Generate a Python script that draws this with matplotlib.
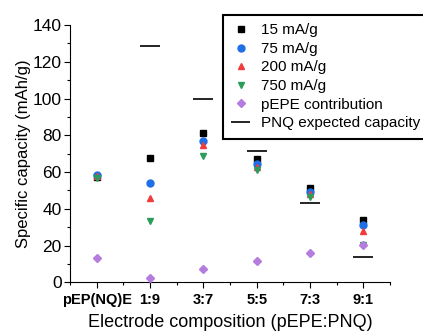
import matplotlib
matplotlib.use("Agg")
import matplotlib.pyplot as plt
from matplotlib.ticker import MultipleLocator

plt.rcParams['font.family'] = ['Liberation Sans', 'DejaVu Sans']

# Données
compositions = ['pEP(NQ)E', '1:9', '3:7', '5:5', '7:3', '9:1']
cap_15 = [57.5, 67.5, 81, 67, 51.5, 34]
cap_75 = [58.5, 54, 77, 64.5, 49, 31]
cap_200 = [58, 46, 74.5, 63, 48, 28]
cap_750 = [56.5, 33.5, 68.5, 61, 46.5, 20.5]
pepe_contrib = [13, 2.3, 7, 11.5, 16, 20.5]
pnq_expected = [128.5, 100, 71.5, 43, 14]   # pour 1:9 .. 9:1

x = list(range(len(compositions)))

fig = plt.figure(figsize=(4.23, 3.31), dpi=100)
ax = fig.add_axes([0.1655, 0.147, 0.7565, 0.7775])

ms = 5
ax.plot(x, cap_15, 's', color='black', ms=ms, label='15 mA/g', zorder=3)
ax.plot(x, cap_75, 'o', color='#1f6fe6', ms=ms, label='75 mA/g', zorder=3)
ax.plot(x, cap_200, '^', color='#f03c3c', ms=ms, label='200 mA/g', zorder=3)
ax.plot(x, cap_750, 'v', color='#2a9d5c', ms=ms, label='750 mA/g', zorder=3)
ax.plot(x, pepe_contrib, 'D', color='#b57ce0', ms=4.5, label='pEPE contribution', zorder=3)
ax.hlines(pnq_expected, [i - 0.19 for i in x[1:]], [i + 0.19 for i in x[1:]],
          color='black', lw=1.2, label='PNQ expected capacity')

ax.set_xlim(-0.5, 5.5)
ax.set_ylim(0, 140)
ax.set_xticks(x)
ax.set_xticklabels(compositions, fontweight='bold', fontsize=10.5)
ax.xaxis.set_minor_locator(MultipleLocator(0.5))
ax.yaxis.set_major_locator(MultipleLocator(20))
ax.yaxis.set_minor_locator(MultipleLocator(10))
ax.tick_params(axis='y', labelsize=12.5, pad=2)
ax.tick_params(which='major', length=4, width=0.8, direction='out')
ax.tick_params(which='minor', length=2.5, width=0.8, direction='out')
ax.spines['top'].set_visible(False)
ax.spines['right'].set_visible(False)

ax.set_xlabel('Electrode composition (pEPE:PNQ)', fontsize=13, labelpad=5)
ax.set_ylabel('Specific capacity (mAh/g)', fontsize=12, labelpad=1)

leg = fig.legend(loc='upper left', bbox_to_anchor=(0.527, 0.955), fontsize=11,
                 frameon=True, fancybox=False, edgecolor='black', framealpha=1,
                 labelspacing=0.3, handlelength=1.25, handletextpad=0.72,
                 borderpad=0.55, borderaxespad=0)
leg.get_frame().set_linewidth(1.5)

fig.savefig('out.png', dpi=100)
